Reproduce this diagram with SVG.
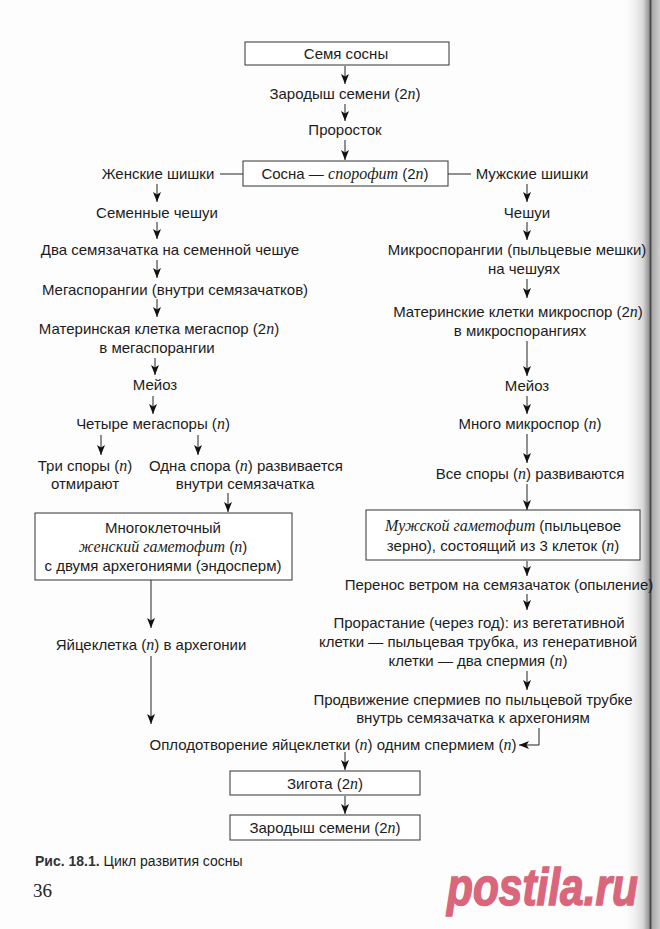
<svg xmlns="http://www.w3.org/2000/svg" width="660" height="929" viewBox="0 0 660 929">
<defs>
<style>
.t{font-family:"Liberation Sans",Arial,sans-serif;font-size:15px;fill:#1c1c1c;text-anchor:middle}
.i{font-family:"Liberation Serif","Times New Roman",serif;font-style:italic;font-size:16px}
.box{fill:#fff;stroke:#333;stroke-width:1}
.ln{fill:none;stroke:#222;stroke-width:1}
.ar{fill:none;stroke:#222;stroke-width:1;marker-end:url(#ah)}
.cap{font-family:"Liberation Sans",Arial,sans-serif;font-size:14px;fill:#1c1c1c}
</style>
<marker id="ah" viewBox="0 0 10 8" refX="10" refY="4" markerWidth="11" markerHeight="8" markerUnits="userSpaceOnUse" orient="auto">
<path d="M0,0 L10,4 L0,8 L2.5,4 Z" fill="#111"/>
</marker>
<linearGradient id="edge" x1="0" y1="0" x2="1" y2="0">
<stop offset="0" stop-color="#fdfdfd" stop-opacity="0"/>
<stop offset="0.55" stop-color="#d8d8d8"/>
<stop offset="0.7" stop-color="#9a9a9a"/>
<stop offset="0.75" stop-color="#4a4a4a"/>
<stop offset="0.8" stop-color="#aaaaaa"/>
<stop offset="1" stop-color="#cfcfcf"/>
</linearGradient>
</defs>
<rect width="660" height="929" fill="#fdfdfd"/>
<rect x="622" y="0" width="38" height="929" fill="url(#edge)"/>

<g id="connectors">
<path class="ar" d="M345,66 V84"/>
<path class="ar" d="M345,104 V121"/>
<path class="ar" d="M345,140 V160"/>
<path class="ln" d="M220,174 H243"/>
<path class="ln" d="M448,174 H471"/>
<path class="ar" d="M157,184 V202"/>
<path class="ar" d="M157,222 V239"/>
<path class="ar" d="M157,260 V278"/>
<path class="ar" d="M157,299 V317"/>
<path class="ar" d="M155,358 V375"/>
<path class="ar" d="M153,396 V414"/>
<path class="ar" d="M101,435 V455"/>
<path class="ar" d="M198,435 V455"/>
<path class="ar" d="M228,493 V512"/>
<path class="ar" d="M151,580 V628"/>
<path class="ar" d="M151,656 V724"/>
<path class="ar" d="M539,728 V745 H519"/>
<path class="ar" d="M345,752 V770"/>
<path class="ar" d="M345,796 V814"/>
<path class="ar" d="M527,184 V202"/>
<path class="ar" d="M527,222 V240"/>
<path class="ar" d="M527,279 V298"/>
<path class="ar" d="M527,341 V376"/>
<path class="ar" d="M527,396 V414"/>
<path class="ar" d="M527,434 V463"/>
<path class="ar" d="M527,484 V510"/>
<path class="ar" d="M527,561 V576"/>
<path class="ar" d="M527,594 V610"/>
<path class="ar" d="M527,671 V690"/>
</g>

<g id="seed"><rect class="box" x="245" y="42" width="204" height="23"/><text class="t" x="346" y="59">Семя сосны</text></g>
<g id="embryo1"><text class="t" x="345" y="99">Зародыш семени (2<tspan class="i">n</tspan>)</text></g>
<g id="sprout"><text class="t" x="345" y="135">Проросток</text></g>
<g id="sporophyte"><rect class="box" x="243" y="161" width="205" height="25"/><text class="t" x="345" y="179">Сосна — <tspan class="i">спорофит</tspan> (2<tspan class="i">n</tspan>)</text></g>
<g id="female-cones"><text class="t" x="158" y="179">Женские шишки</text></g>
<g id="male-cones"><text class="t" x="532" y="179">Мужские шишки</text></g>

<g id="seed-scales"><text class="t" x="157" y="218">Семенные чешуи</text></g>
<g id="ovules"><text class="t" x="170" y="255">Два семязачатка на семенной чешуе</text></g>
<g id="megasporangia"><text class="t" x="175" y="295">Мегаспорангии (внутри семязачатков)</text></g>
<g id="megaspore-mother"><text class="t" x="159" y="334">Материнская клетка мегаспор (2<tspan class="i">n</tspan>)</text><text class="t" x="157" y="353">в мегаспорангии</text></g>
<g id="meiosis-f"><text class="t" x="155" y="390">Мейоз</text></g>
<g id="four-megaspores"><text class="t" x="153" y="429">Четыре мегаспоры (<tspan class="i">n</tspan>)</text></g>
<g id="three-die"><text class="t" x="85" y="471">Три споры (<tspan class="i">n</tspan>)</text><text class="t" x="85" y="489">отмирают</text></g>
<g id="one-develops"><text class="t" x="246" y="471">Одна спора (<tspan class="i">n</tspan>) развивается</text><text class="t" x="245" y="489">внутри семязачатка</text></g>
<g id="female-gametophyte"><rect class="box" x="35" y="513" width="257" height="67"/>
<text class="t" x="163" y="533">Многоклеточный</text>
<text class="t" x="163" y="552"><tspan class="i">женский гаметофит</tspan> (<tspan class="i">n</tspan>)</text>
<text class="t" x="163" y="571">с двумя архегониями (эндосперм)</text></g>
<g id="egg"><text class="t" x="151" y="650">Яйцеклетка (<tspan class="i">n</tspan>) в архегонии</text></g>

<g id="scales"><text class="t" x="527" y="218">Чешуи</text></g>
<g id="microsporangia"><text class="t" x="517" y="255">Микроспорангии (пыльцевые мешки)</text><text class="t" x="524" y="274">на чешуях</text></g>
<g id="microspore-mother"><text class="t" x="518" y="317">Материнские клетки микроспор (2<tspan class="i">n</tspan>)</text><text class="t" x="520" y="336">в микроспорангиях</text></g>
<g id="meiosis-m"><text class="t" x="527" y="391">Мейоз</text></g>
<g id="microspores"><text class="t" x="530" y="429">Много микроспор (<tspan class="i">n</tspan>)</text></g>
<g id="all-develop"><text class="t" x="530" y="479">Все споры (<tspan class="i">n</tspan>) развиваются</text></g>
<g id="male-gametophyte"><rect class="box" x="366" y="510" width="274" height="50"/>
<text class="t" x="503" y="531"><tspan class="i">Мужской гаметофит</tspan> (пыльцевое</text>
<text class="t" x="503" y="551">зерно), состоящий из 3 клеток (<tspan class="i">n</tspan>)</text></g>
<g id="pollination"><text class="t" x="499" y="590">Перенос ветром на семязачаток (опыление)</text></g>
<g id="germination"><text class="t" x="479" y="628">Прорастание (через год): из вегетативной</text>
<text class="t" x="478" y="647">клетки — пыльцевая трубка, из генеративной</text>
<text class="t" x="478" y="666">клетки — два спермия (<tspan class="i">n</tspan>)</text></g>
<g id="sperm-movement"><text class="t" x="473" y="705">Продвижение спермиев по пыльцевой трубке</text>
<text class="t" x="473" y="723">внутрь семязачатка к архегониям</text></g>

<g id="fertilization"><text class="t" x="333" y="750">Оплодотворение яйцеклетки (<tspan class="i">n</tspan>) одним спермием (<tspan class="i">n</tspan>)</text></g>
<g id="zygote"><rect class="box" x="230" y="771" width="190" height="24"/><text class="t" x="325" y="789">Зигота (2<tspan class="i">n</tspan>)</text></g>
<g id="embryo2"><rect class="box" x="230" y="815" width="190" height="25"/><text class="t" x="325" y="833">Зародыш семени (2<tspan class="i">n</tspan>)</text></g>

<text class="cap" x="35" y="866"><tspan font-weight="bold" fill="#333">Рис. 18.1.</tspan> Цикл развития сосны</text>
<text x="33" y="897" font-family="Liberation Serif,serif" font-size="19" fill="#222">36</text>
<text transform="translate(447,905) scale(0.816,1)" x="0" y="0" font-family="Liberation Sans,Arial,sans-serif" font-weight="bold" font-style="italic" font-size="52" fill="#d9667b" stroke="#d9667b" stroke-width="1.5">postila.ru</text>
</svg>
